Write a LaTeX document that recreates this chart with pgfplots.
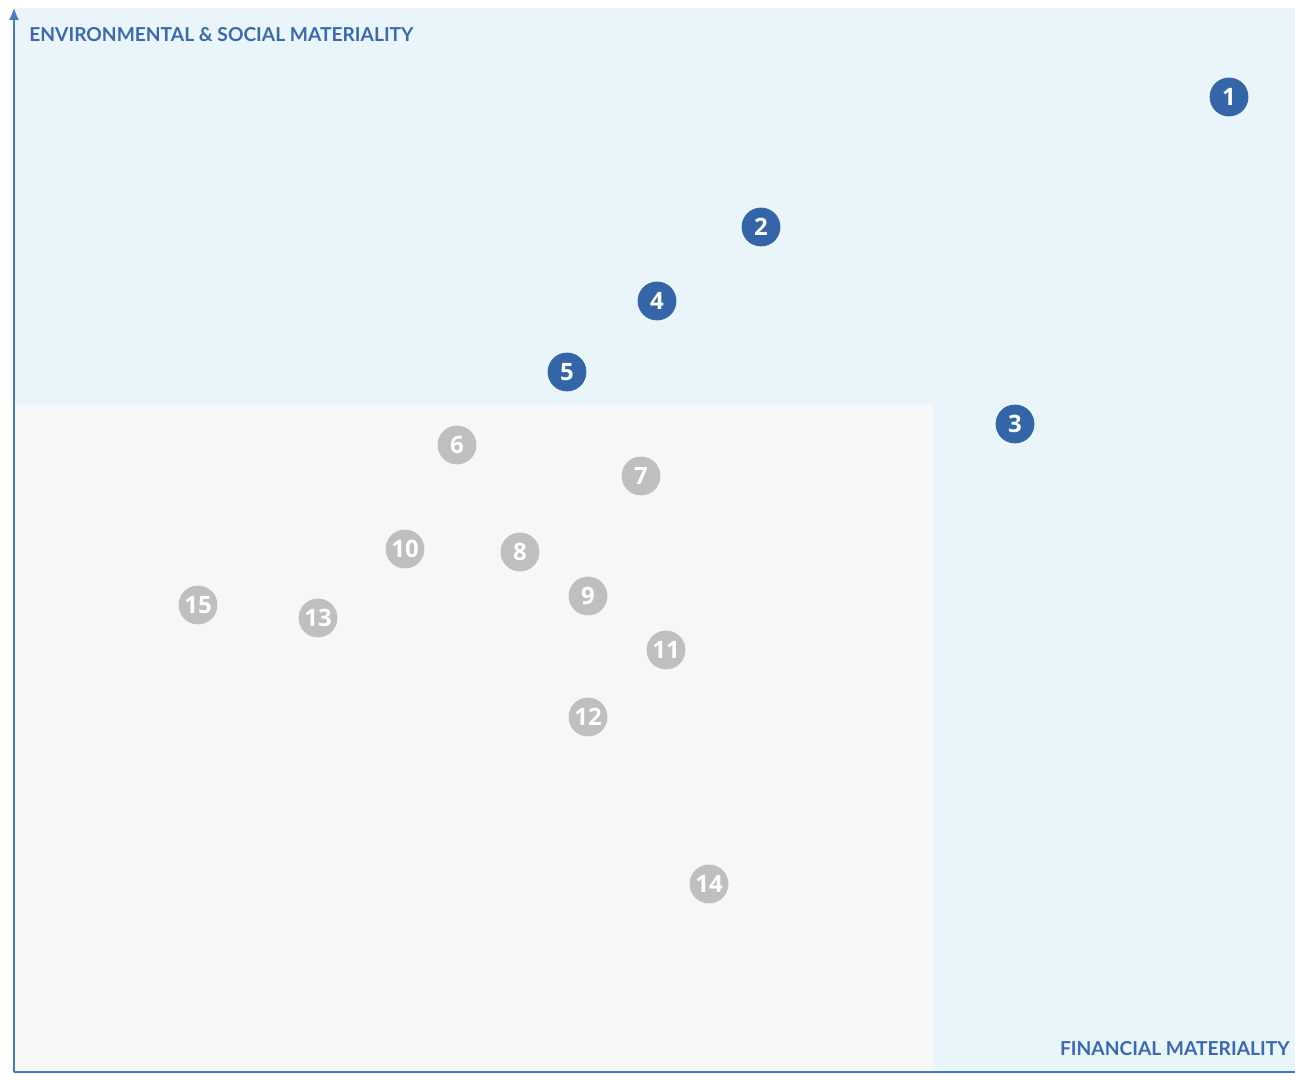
\documentclass[border=0pt]{standalone}
\usepackage{fontspec}
\setmainfont{Lato}
\newfontfamily\numfont{Open Sans}
\usepackage{pgfplots}
\pgfplotsset{compat=1.18}
\usetikzlibrary{arrows.meta}

\definecolor{matblue}{HTML}{3565A9}
\definecolor{labblue}{HTML}{3A6AB0}
\definecolor{axblue}{HTML}{4A7BC0}
\definecolor{bgblue}{HTML}{EAF5FB}
\definecolor{bggray}{HTML}{F7F7F7}
\definecolor{dotgray}{HTML}{BFBFBF}

% positions read off the matrix (x = financial, y = env. & social)
\pgfplotstableread{
x    y    id
1215 975  1
747  845  2
1001 648  3
643  771  4
553  700  5
}\highpts
\pgfplotstableread{
x    y    id
443  627  6
627  596  7
506  520  8
574  476  9
391  523  10
652  422  11
574  355  12
304  454  13
695  188  14
184  467  15
}\lowpts

\begin{document}
\begin{tikzpicture}
\begin{axis}[
    scale only axis,
    width=647.5pt, height=537pt,
    xmin=-14, xmax=1281, ymin=-2, ymax=1072,
    hide axis,
    clip=false,
    dots/.style={only marks, mark=*, mark size=9.5pt, color=#1,
        mark options={fill=#1, draw=#1},
        point meta=explicit symbolic,
        nodes near coords, nodes near coords align=center,
        every node near coord/.append style={anchor=center, text=white,
            font=\numfont\bfseries\fontsize{12}{12}\selectfont}},
]
% background quadrants
\addplot[fill=bgblue, draw=none] coordinates {(0,0) (1281,0) (1281,1064) (0,1064)} --cycle;
\addplot[fill=bggray, draw=none] coordinates {(0,0) (919,0) (919,668) (0,668)} --cycle;
% axes
\addplot[axblue, line width=0.6pt, -{Latex[length=6pt,width=5pt]}] coordinates {(0,0) (0,1064)};
\addplot[axblue, line width=0.6pt] coordinates {(0,0) (1281,0)};
% points
\addplot[dots=matblue] table[x=x, y=y, meta=id] {\highpts};
\addplot[dots=dotgray] table[x=x, y=y, meta=id] {\lowpts};
% axis titles
\node[anchor=base west, inner sep=0pt, text=labblue, font=\bfseries\fontsize{9.6}{12}\selectfont]
    at (axis cs:15,1030) {ENVIRONMENTAL \& SOCIAL MATERIALITY};
\node[anchor=base east, inner sep=0pt, text=labblue, font=\bfseries\fontsize{9.6}{12}\selectfont]
    at (axis cs:1276,16) {FINANCIAL MATERIALITY};
\end{axis}
\pgfresetboundingbox
\useasboundingbox (current axis.south west) rectangle (current axis.north east);
\end{tikzpicture}
\end{document}
